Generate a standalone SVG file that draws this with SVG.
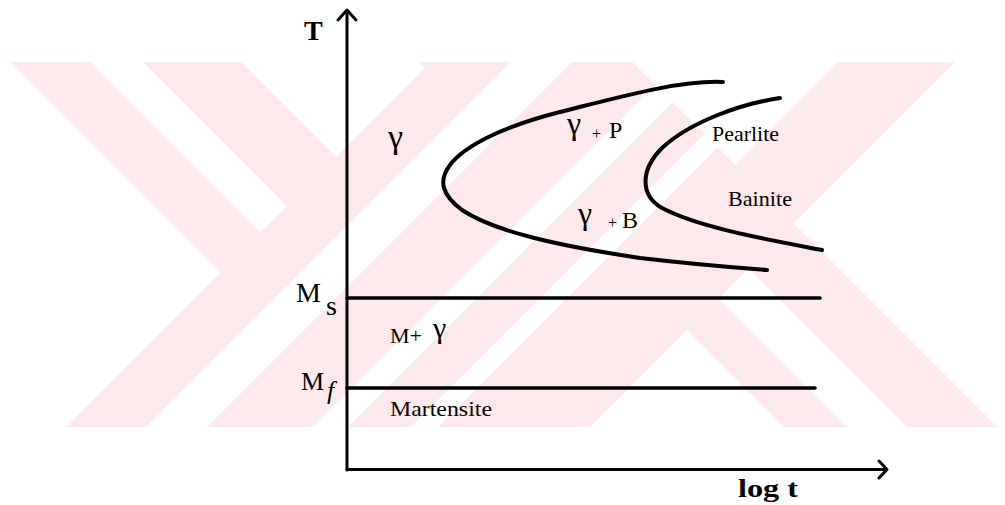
<svg xmlns="http://www.w3.org/2000/svg" width="1005" height="505" viewBox="0 0 1005 505">
<defs>
<clipPath id="wm"><rect x="0" y="62" width="1005" height="365"/></clipPath>
<style>
.pk{fill:#fde8eb}
.wh{fill:#ffffff}
.ln{stroke:#000;fill:none;stroke-linecap:round;stroke-linejoin:round}
.t{font-family:"Liberation Serif","Times New Roman",serif;fill:#000}
</style>
</defs>
<rect width="1005" height="505" fill="#fff"/>
<g id="watermark" clip-path="url(#wm)">
<polygon class="pk" points="-102,-50 129,-50 539.5,360.5 424,476"/>
<polygon class="pk" points="-57,550 350,550 735,165 531.5,-38.5"/>
<polygon class="pk" points="950,-50 1067,-50 467,550 350,550"/>
<polygon class="pk" points="307,-50 520,-50 1120,550 907,550"/>
<polygon class="wh" points="-72,-100 -19,-100 287,206 260.5,232.5"/>
<polygon class="wh" points="623,-50 684,-50 84,550 23,550"/>
<polygon class="wh" points="790,-50 825,-50 225,550 190,550"/>
<polygon class="wh" points="888,-50 915,-50 315,550 288,550"/>
<polygon class="wh" points="718.5,298.5 748.5,268.5 1030,550 970,550"/>
</g>
<g id="axes">
<line class="ln" x1="347" y1="11" x2="347" y2="470" stroke-width="3"/>
<polyline class="ln" points="338,20 347,10 356,20" stroke-width="3"/>
<line class="ln" x1="347" y1="469.5" x2="886" y2="469.5" stroke-width="3"/>
<polyline class="ln" points="879,461 887,469.5 879,478" stroke-width="3"/>
</g>
<g id="lines">
<line class="ln" x1="347" y1="298" x2="820" y2="298" stroke-width="3.5" stroke-linecap="butt"/>
<line class="ln" x1="347" y1="388" x2="815" y2="388" stroke-width="3.5" stroke-linecap="butt"/>
</g>
<g id="curves">
<path class="ln" stroke-width="4" d="M723,82 C680,80 620,97 560,112 C505,126 465,145 450,165 C438,181 442,195 462,210 C495,232 560,246 640,258 C700,265 740,268 767,270"/>
<path class="ln" stroke-width="4" d="M780,98 C740,104 690,122 662,148 C640,170 640,195 662,208 C700,228 770,240 822,250"/>
</g>
<g id="labels">
<text class="t" x="304" y="40" font-size="28" font-weight="bold">T</text>
<text class="t" x="388" y="148" font-size="34">γ</text>
<text class="t" x="567" y="134" font-size="32">γ</text>
<text class="t" x="592" y="139" font-size="16">+</text>
<text class="t" x="609" y="138" font-size="24">P</text>
<text class="t" x="578" y="224" font-size="32">γ</text>
<text class="t" x="608" y="228" font-size="16">+</text>
<text class="t" x="622" y="228" font-size="24">B</text>
<text class="t" x="712" y="141" font-size="22" textLength="67" lengthAdjust="spacingAndGlyphs">Pearlite</text>
<text class="t" x="728" y="206" font-size="22" textLength="64" lengthAdjust="spacingAndGlyphs">Bainite</text>
<text class="t" x="296" y="302" font-size="28">M</text>
<text class="t" x="326" y="315" font-size="28">s</text>
<text class="t" x="301" y="390" font-size="26">M</text>
<text class="t" x="327" y="399" font-size="26" font-style="italic">f</text>
<text class="t" x="390" y="343" font-size="22">M+</text>
<text class="t" x="433" y="338" font-size="30">γ</text>
<text class="t" x="390" y="416" font-size="22" textLength="102" lengthAdjust="spacingAndGlyphs">Martensite</text>
<text class="t" x="738" y="497" font-size="26" font-weight="bold" textLength="60" lengthAdjust="spacingAndGlyphs">log t</text>
</g>
</svg>
